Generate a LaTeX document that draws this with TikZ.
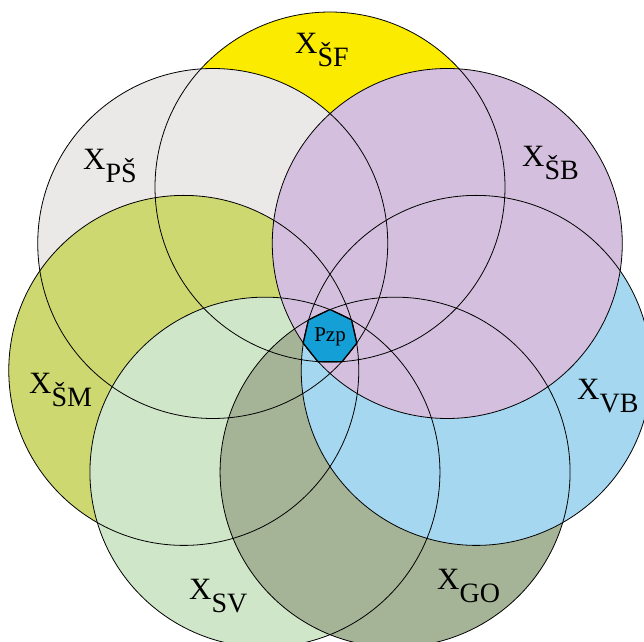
\documentclass[tikz,border=0pt]{standalone}
\usepackage{fontspec}
\setmainfont{Liberation Serif}
\usetikzlibrary{shapes.geometric,calc}
\definecolor{cSF}{HTML}{FAEB00}
\definecolor{cPS}{HTML}{EBE9E8}
\definecolor{cSM}{HTML}{CDD870}
\definecolor{cSV}{HTML}{D0E6C8}
\definecolor{cGO}{HTML}{A5B496}
\definecolor{cVB}{HTML}{A5D7F0}
\definecolor{cSB}{HTML}{D4C0DE}
\definecolor{cPzp}{HTML}{14A0D7}
\newcommand{\setlabel}[1]{{\fontsize{31}{33}\selectfont X}\raisebox{-13pt}{\fontsize{28}{30}\selectfont #1}}
\tikzset{
  setname/.style={inner sep=0pt, anchor=base west},
  ring/.style={draw=black, line width=0.8pt},
  core/.style={regular polygon, regular polygon sides=7, minimum size=55pt, inner sep=0pt,
    fill=cPzp, draw=black, line width=1.3pt, font=\fontsize{21}{23}\selectfont}
}
\begin{document}
\begin{tikzpicture}[x=1pt,y=-1pt]
\useasboundingbox[fill=white] (0,0) rectangle (644,641);
\coordinate (C) at (330,337);
\foreach \n/\a/\c in {SF/90/cSF, PS/141.43/cPS, SM/192.86/cSM, SV/244.29/cSV, GO/295.71/cGO, VB/347.14/cVB, SB/38.57/cSB} {
  \coordinate (c\n) at ($(C)+(-\a:150)$);
  \fill[\c] (c\n) circle[radius=175];
}
\foreach \n in {SF,PS,SM,SV,GO,VB,SB} {
  \draw[ring] (c\n) circle[radius=175];
}
\node[core] (pzp) at (C) {Pzp};
\node[setname] (lSF) at (295,53) {\setlabel{ŠF}};
\node[setname] (lPS) at (83,169) {\setlabel{PŠ}};
\node[setname] (lSB) at (522,166) {\setlabel{ŠB}};
\node[setname] (lSM) at (29,393) {\setlabel{ŠM}};
\node[setname] (lVB) at (577,399) {\setlabel{VB}};
\node[setname] (lSV) at (189,599) {\setlabel{SV}};
\node[setname] (lGO) at (437,589) {\setlabel{GO}};
\end{tikzpicture}
\end{document}
